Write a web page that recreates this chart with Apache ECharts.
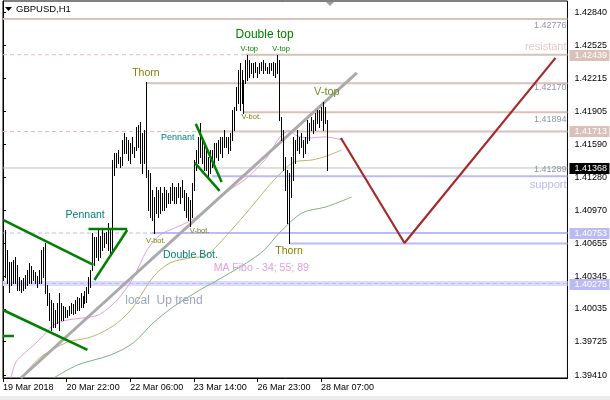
<!DOCTYPE html>
<html><head><meta charset="utf-8">
<script src="https://cdn.jsdelivr.net/npm/echarts@6/dist/echarts.min.js"></script>
<style>html,body{margin:0;padding:0;background:#fff}#c{width:610px;height:400px}</style>
</head><body><div id="c"></div><script>
// ---------- data ----------
const symbolName = 'GBPUSD,H1';
const priceTicks = [1.39410,1.39725,1.40035,1.40345,1.40655,1.40970,1.41280,1.41590,1.41905,1.42215,1.42525,1.42840];
const timeTickIdx = [0,32,64,96,128,160];
const timeTickLabels = ['19 Mar 2018','20 Mar 22:00','22 Mar 06:00','23 Mar 14:00','26 Mar 23:00','28 Mar 07:00'];
const firstBar = 1;
const highs = [1.40782,1.40593,1.40479,1.40479,1.40498,1.40526,1.40451,1.40337,1.40309,1.40328,
1.40356,1.40403,1.40470,1.40442,1.40403,1.40384,1.40347,1.40403,1.40593,1.40621,
1.40659,1.40261,1.40186,1.40120,1.40092,1.40025,1.40092,1.40186,1.40092,1.40063,
1.40053,1.40025,1.40063,1.40092,1.40082,1.40120,1.40148,1.40139,1.40186,1.40158,
1.40205,1.40242,1.40337,1.40403,1.40754,1.40716,1.40716,1.40782,1.40725,1.40782,
1.40754,1.40763,1.40849,1.40782,1.41444,1.41511,1.41511,1.41539,1.41473,1.41634,
1.41700,1.41662,1.41634,1.41605,1.41662,1.41567,1.41757,1.41776,1.41804,1.41700,
1.41728,1.42182,1.41350,1.41321,1.41160,1.41094,1.41189,1.41160,1.41189,1.41132,
1.41189,1.41160,1.41132,1.41189,1.41227,1.41189,1.41189,1.41227,1.41189,1.41255,
1.41160,1.41132,1.41094,1.41066,1.41227,1.41444,1.41539,1.41662,1.41795,1.41662,
1.41605,1.41539,1.41473,1.41539,1.41539,1.41605,1.41605,1.41634,1.41662,1.41662,
1.41728,1.41662,1.41662,1.41700,1.41917,1.41946,1.42135,1.42296,1.42362,1.42296,
1.42201,1.42390,1.42438,1.42390,1.42362,1.42362,1.42371,1.42324,1.42362,1.42371,
1.42390,1.42362,1.42324,1.42362,1.42362,1.42371,1.42362,1.42438,1.42390,1.41851,
1.41728,1.41473,1.41350,1.41321,1.41473,1.41662,1.41634,1.41728,1.41662,1.41700,
1.41634,1.41662,1.41823,1.41795,1.41851,1.41823,1.41889,1.41917,1.41917,1.41946,
1.41993,1.41946,1.41823];
const lows = [1.40337,1.40281,1.40195,1.40261,1.40281,1.40281,1.40214,1.40214,1.40195,1.40214,
1.40233,1.40261,1.40281,1.40281,1.40309,1.40281,1.40242,1.40281,1.40281,1.40337,
1.40186,1.40072,1.39930,1.39836,1.39864,1.39864,1.39902,1.39836,1.39930,1.39930,
1.39959,1.39959,1.39978,1.39997,1.39987,1.39997,1.40025,1.40025,1.40053,1.40053,
1.40092,1.40101,1.40186,1.40242,1.40403,1.40451,1.40526,1.40498,1.40526,1.40593,
1.40621,1.40659,1.40593,1.40564,1.40593,1.41302,1.41378,1.41416,1.41378,1.41397,
1.41511,1.41511,1.41444,1.41416,1.41511,1.41473,1.41539,1.41567,1.41416,1.41321,
1.41416,1.41283,1.40971,1.40905,1.40877,1.40754,1.40943,1.40905,1.40943,1.40971,
1.40971,1.41000,1.41038,1.41038,1.41066,1.41038,1.41038,1.41094,1.41038,1.41094,
1.40971,1.40905,1.40877,1.40820,1.40905,1.41160,1.41350,1.41416,1.41473,1.41416,
1.41350,1.41350,1.41283,1.41321,1.41378,1.41416,1.41473,1.41444,1.41511,1.41473,
1.41567,1.41567,1.41511,1.41539,1.41634,1.41728,1.41917,1.41984,1.41917,1.41984,
1.41889,1.42173,1.42201,1.42229,1.42267,1.42229,1.42277,1.42229,1.42267,1.42296,
1.42267,1.42296,1.42267,1.42267,1.42296,1.42248,1.42229,1.42267,1.41823,1.41634,
1.41350,1.41160,1.40849,1.40659,1.41094,1.41255,1.41416,1.41539,1.41511,1.41567,
1.41473,1.41511,1.41605,1.41634,1.41728,1.41700,1.41728,1.41795,1.41757,1.41823,
1.41728,1.41795,1.41350];
const bidPrice = 1.41368;
// moving averages (bar index, price)
const ma34 = [[4,1.39382],[6.5,1.39533],[11.5,1.39628],[15.5,1.39694],[20.5,1.39788],[25.5,1.39883],[32.5,1.39930],[44,1.39959],[49,1.39987],[57.5,1.40120],[65.5,1.40328],[72.5,1.40593],[79,1.40735],[86.5,1.40801],[94,1.40867],[104,1.41000],[114,1.41160],[121.5,1.41255],[128,1.41368],[133,1.41473],[139,1.41652],[144,1.41719],[148,1.41671],[155,1.41652],[161.5,1.41662],[170.5,1.41634]];
const ma55 = [[9,1.39382],[19,1.39580],[32.5,1.39722],[42.5,1.39760],[49,1.39807],[57.5,1.39902],[65.5,1.40053],[75.5,1.40337],[84,1.40470],[94,1.40517],[102.5,1.40545],[114,1.40763],[125,1.41000],[135,1.41227],[141.5,1.41350],[146.5,1.41425],[155.5,1.41444],[163,1.41482],[170.5,1.41539]];
const ma89 = [[25.5,1.39382],[37.5,1.39505],[54,1.39599],[65.5,1.39713],[75.5,1.39902],[85.5,1.40053],[99,1.40214],[105.5,1.40281],[122.5,1.40470],[131.5,1.40593],[139,1.40754],[150.5,1.40943],[162.5,1.41000],[175.5,1.41094]];
const trendLine = [[9,1.39382],[178,1.42267]];
const patternLines = [
  [[0,1.40877],[45.5,1.40451]],
  [[0,1.40025],[42.5,1.39647]],
  [[0,1.39779],[5.5,1.39779]],
  [[43,1.40792],[62.5,1.40792]],
  [[46,1.40309],[62.5,1.40782]],
  [[97,1.41785],[110,1.41236]],
  [[96.5,1.41416],[109,1.41151]]
];
const forecast = [[170,1.41652],[202,1.40659],[278,1.42409]];
// levels: [price, from bar index]
const resistanceLevels = [[1.42776,0],[1.42439,122],[1.42170,72.5],[1.41894,121],[1.41713,98.5]];
const resistanceGuides = [[1.42439,0,122],[1.41713,0,98.5]];
const supportLevels = [[1.41289,105],[1.40753,75],[1.40655,144]];
const supportGuides = [[1.40753,0,75],[1.40275,0,284]];
const supportBands = [1.40275];
const axisMarks = [[1.42439,'res'],[1.41713,'res'],[1.41368,'bid'],[1.40753,'sup'],[1.40275,'sup']];
// annotations: text, bar index, price, kind
const notes = [
  ['Double top',117,1.42627,'titleGreen'],
  ['V-top',119.5,1.42494,'tagGreen'],
  ['V-top',135.5,1.42494,'tagGreen'],
  ['V-top',156.5,1.42083,'vtop'],
  ['V-bot.',120,1.41851,'tagOlive'],
  ['Thorn',65,1.42267,'thorn'],
  ['Pennant',31.5,1.40924,'pennant'],
  ['Pennant',79.5,1.41657,'pennantSmall'],
  ['V-bot.',72,1.40678,'tagOlive'],
  ['V-bot.',94,1.40773,'tagOlive'],
  ['Double Bot.',80.5,1.40545,'dbot'],
  ['Thorn',137,1.40579,'thorn'],
  ['MA Fibo - 34; 55; 89',106,1.40422,'ma'],
  ['local  Up trend',61.5,1.40110,'trend'],
  ['resistant',283.5,1.42513,'resist'],
  ['support',283.5,1.41203,'support'],
  ['1.42776',283.5,1.42712,'price'],
  ['1.42170',283.5,1.42126,'price'],
  ['1.41894',283.5,1.41823,'price'],
  ['1.41289',283.5,1.41350,'price']
];

// ---------- styles ----------
const FONT = '"Liberation Sans", Arial, sans-serif';
const RES = '#d9c1ba', SUP = '#bbbbf3', SUPBAND = '#dcdcfa';
const noteStyles = {
  titleGreen:{c:'#008000',s:12}, tagGreen:{c:'#008000',s:7.5}, vtop:{c:'#6b8e23',s:11},
  tagOlive:{c:'#808000',s:7.5}, thorn:{c:'#808000',s:10.5}, pennant:{c:'#008080',s:10.5},
  pennantSmall:{c:'#008080',s:9}, dbot:{c:'#00806e',s:10.5}, ma:{c:'#dda0dd',s:10.5},
  trend:{c:'#9aa5c0',s:12}, resist:{c:'#e2cac6',s:11,a:'right'}, support:{c:'#b8b8f0',s:11,a:'right'},
  price:{c:'#8a96ac',s:9,a:'right'}
};
const markColors = {res:RES, bid:'#000000', sup:SUP};
const XMAX = 284;

const series = [];
function seg(points, style, z){
  series.push({type:'line', data:points, symbol:'none', silent:true, animation:false, lineStyle:style, z:z, clip:true});
}
supportBands.forEach(p => seg([[0,p],[XMAX,p]], {color:SUPBAND, width:5}, 1));
resistanceGuides.forEach(g => seg([[g[1],g[0]],[g[2],g[0]]], {color:RES, width:1, type:[4,3]}, 2));
supportGuides.forEach(g => seg([[g[1],g[0]],[g[2],g[0]]], {color:SUP, width:1, type:[4,3]}, 2));
resistanceLevels.forEach(l => seg([[l[1],l[0]],[XMAX,l[0]]], {color:RES, width:2}, 2));
supportLevels.forEach(l => seg([[l[1],l[0]],[XMAX,l[0]]], {color:SUP, width:2}, 2));
seg([[0,bidPrice],[XMAX,bidPrice]], {color:'#c0c0c0', width:1}, 2);
[[ma89,'#78b478'],[ma55,'#bdb36b'],[ma34,'#dda0dd']].forEach(m => series.push({type:'line', data:m[0], symbol:'none', smooth:0.3, silent:true, animation:false, lineStyle:{color:m[1], width:1}, z:3}));
seg(trendLine, {color:'#aaaaaa', width:3}, 4);
// OHLC bars
series.push({type:'custom', z:5, silent:true, animation:false,
  data: highs.map((h,k)=>[firstBar+k, h, lows[k]]),
  renderItem:(params, api)=>{
    const a = api.coord([api.value(0), api.value(1)]);
    const b = api.coord([api.value(0), api.value(2)]);
    const x = Math.round(a[0]) + 0.5;
    return {type:'line', shape:{x1:x, y1:Math.round(a[1]), x2:x, y2:Math.round(b[1])+1}, style:{stroke:'#000', lineWidth:1}};
  }});
patternLines.forEach(p => seg(p, {color:'#008000', width:2.5}, 6));
seg(forecast, {color:'#a52a2a', width:2.2}, 6);
// annotations
series.push({type:'custom', z:8, silent:true, animation:false, clip:false,
  data: notes.map(n=>[n[1], n[2]]),
  renderItem:(params, api)=>{
    const n = notes[params.dataIndex], st = noteStyles[n[3]];
    const p = api.coord([n[1], n[2]]);
    return {type:'text', x:p[0], y:p[1], style:{text:n[0], fill:st.c, font:st.s+'px '+FONT, align:st.a||'left', verticalAlign:'middle'}};
  }});
// axis price markers
series.push({type:'custom', z:9, silent:true, animation:false, clip:false,
  data: axisMarks.map(m=>[XMAX, m[0]]),
  renderItem:(params, api)=>{
    const m = axisMarks[params.dataIndex];
    const p = api.coord([XMAX, m[0]]);
    return {type:'group', children:[
      {type:'rect', shape:{x:p[0]+2, y:Math.round(p[1])-5, width:40, height:11}, style:{fill:markColors[m[1]]}},
      {type:'text', x:p[0]+7, y:Math.round(p[1])+0.5, style:{text:m[0].toFixed(5), fill:'#ffffff', font:'9px '+FONT, align:'left', verticalAlign:'middle'}}
    ]};
  }});

const chart = echarts.init(document.getElementById('c'));
chart.setOption({
  animation:false,
  backgroundColor:'#ffffff',
  grid:{left:2, right:40, top:1, bottom:22, show:true, borderColor:'#000', borderWidth:1, backgroundColor:'transparent'},
  xAxis:{type:'value', min:0, max:XMAX, position:'bottom',
    axisLine:{show:true, lineStyle:{color:'#000', width:1}},
    axisTick:{show:true, customValues:timeTickIdx, length:4, lineStyle:{color:'#000'}},
    axisLabel:{customValues:timeTickIdx, formatter:v=>timeTickLabels[timeTickIdx.indexOf(v)], align:'left', margin:5, color:'#000', fontSize:9, fontFamily:FONT},
    splitLine:{show:false}},
  yAxis:{type:'value', position:'right', min:1.39382, max:1.42947,
    axisLine:{show:true, lineStyle:{color:'#000', width:1}},
    axisTick:{show:true, customValues:priceTicks, length:3, lineStyle:{color:'#000'}},
    axisLabel:{customValues:priceTicks, formatter:v=>v.toFixed(5), margin:7, color:'#000', fontSize:9, fontFamily:FONT, align:'left'},
    splitLine:{show:false}},
  graphic:[
    {type:'polygon', shape:{points:[[5,7],[12,7],[8.5,11]]}, style:{fill:'#000'}},
    {type:'text', left:16, top:4, style:{text:symbolName, fill:'#000', font:'9.5px '+FONT}},
    {type:'polygon', shape:{points:[[326,2],[334,2],[330,6]]}, style:{fill:'#a0a0a0'}},
    {type:'rect', shape:{x:0, y:396, width:610, height:4}, style:{fill:'#ececec'}}
  ],
  series:series
});
</script></body></html>
